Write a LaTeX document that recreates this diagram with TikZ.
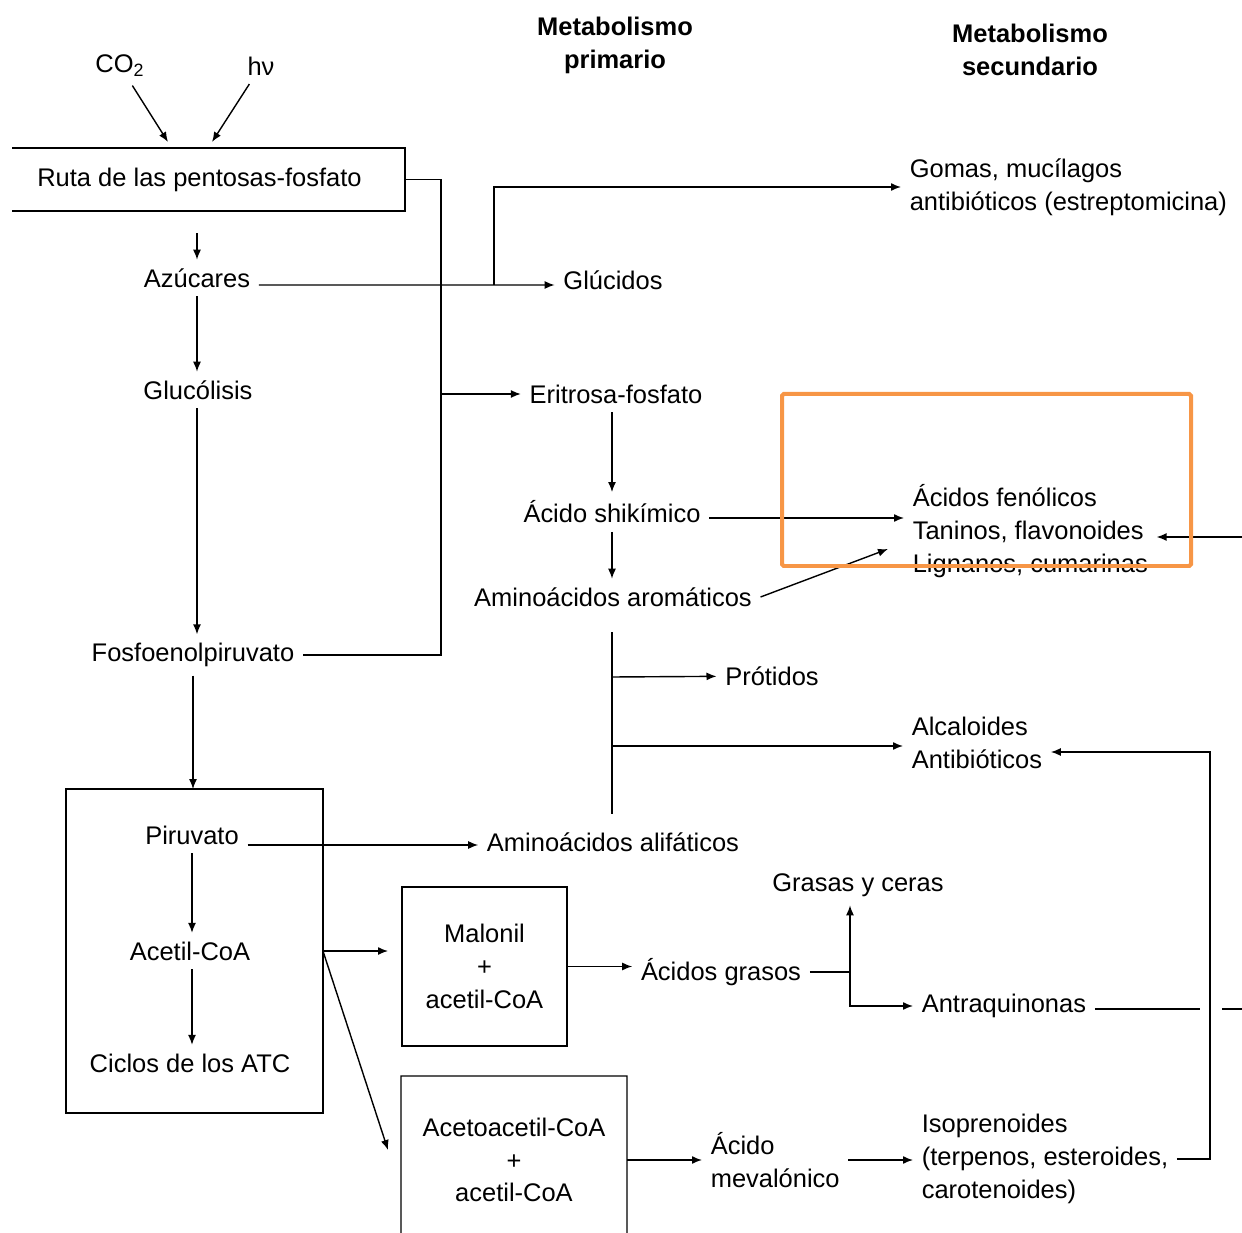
\documentclass[tikz,border=0pt]{standalone}
\usepackage{fontspec}
\setmainfont{Liberation Sans}
\usetikzlibrary{arrows.meta}
\definecolor{naranja}{RGB}{247,150,70}

\begin{document}
\begin{tikzpicture}[x=0.02cm, y=-0.02cm, font=\fontsize{14.5}{18.7}\selectfont, line width=0.8pt]
      % Definición de estilos
      \tikzstyle{texto}=[inner sep=0pt, outer sep=5pt]
      \tikzstyle{bloque}=[texto, anchor=west, align=left]
      \tikzstyle{caja}=[inner sep=0pt, outer sep=0pt, align=center]
      \tikzstyle{flecha}=[-{Latex[length=2mm,width=1.6mm]}]
      \tikzstyle{encabezado}=[font=\fontsize{14.5}{18.7}\selectfont\bfseries, align=center]

      \useasboundingbox (0,0) rectangle (1242,1233);

      % Encabezados
      \node[encabezado] (prim) at (615,45) {Metabolismo\\primario};
      \node[encabezado] (secu) at (1030,50) {Metabolismo\\secundario};

      % Entrada de la fotosíntesis
      \node[texto] (co2) at (120,66) {CO\textsubscript{2}};
      \node[texto] (luz) at (261,66) {hν};
      \coordinate (entco2) at (168,142);
      \coordinate (entluz) at (212,142);
      \node[caja, minimum width=7.86cm, minimum height=1.26cm] (ruta) at (208.5,179.5) {Ruta de las pentosas-fosfato\hspace{0.36cm}};
      \draw (ruta.north west) -- (ruta.north east) -- (ruta.south east) -- (ruta.south west);

      % Columna izquierda
      \node[texto] (azucares) at (197,278) {Azúcares};
      \node[texto] (glucolisis) at (198,390) {Glucólisis};
      \node[texto] (fosfo) at (193,655) {Fosfoenolpiruvato};
      \node[caja, draw, minimum width=5.14cm, minimum height=6.48cm] (cajapir) at (194.5,951) {};
      \node[texto] (piruvato) at (192,835) {Piruvato};
      \node[texto] (acetil) at (190,951) {Acetil-CoA};
      \node[texto] (ciclos) at (190,1063) {Ciclos de los ATC};

      % Cajas de acetil-CoA
      \node[caja, draw, minimum width=3.3cm, minimum height=3.18cm] (malonil) at (484.5,966.5) {Malonil\\+\\acetil-CoA};
      \node[caja, minimum width=4.52cm, minimum height=3.36cm] (aceto) at (514,1160) {Acetoacetil-CoA\\+\\acetil-CoA};
      \draw (401,1233) -- (aceto.north west) -- (aceto.north east) -- (627,1233);

      % Metabolismo primario
      \node[texto] (glucidos) at (613,280) {Glúcidos};
      \node[texto] (eritrosa) at (616,394) {Eritrosa-fosfato};
      \node[texto] (shikimico) at (612,512) {Ácido shikímico};
      \node[texto] (aromaticos) at (613,597) {Aminoácidos aromáticos};
      \node[texto] (protidos) at (772,676) {Prótidos};
      \node[texto] (alifaticos) at (613,842) {Aminoácidos alifáticos};
      \node[texto] (grasos) at (721,972) {Ácidos grasos};
      \node[texto] (grasas) at (858,885) {Grasas y ceras};
      \node[bloque] (meval) at (702,1160) {Ácido\\mevalónico};

      % Metabolismo secundario
      \node[bloque] (gomas) at (901,187) {Gomas, mucílagos\\antibióticos (estreptomicina)};
      \node[bloque] (fenolicos) at (904,531) {Ácidos fenólicos\\Taninos, flavonoides\\Lignanos, cumarinas};
      \node[bloque] (alcaloides) at (903,743) {Alcaloides\\Antibióticos};
      \node[bloque] (antraq) at (913,1006) {Antraquinonas};
      \node[bloque] (iso) at (913,1159) {Isoprenoides\\(terpenos, esteroides,\\carotenoides)};

      % Puntos de unión
      \coordinate (t1) at (441,394);
      \coordinate (b1) at (494,285);
      \coordinate (fen1) at (888,549);
      \coordinate (p1) at (612,677);
      \coordinate (p2) at (612,746);
      \coordinate (ace1) at (388,1150);
      \coordinate (g1) at (850,972);
      \coordinate (s1) at (1200,1009);
      \coordinate (s2) at (1222,1009);
      \coordinate (borde2) at (1242,1009);
      \coordinate (borde1) at (1242,537);
      \coordinate (r1) at (1210,752);

      % Conexiones
      \draw[flecha] (co2) -- (entco2);
      \draw[flecha] (luz) -- (entluz);
      \draw[flecha, shorten <=0.45cm] (ruta.south -| azucares) -- (azucares);
      \draw[flecha] (azucares) -- (azucares |- glucolisis.north);
      \draw[flecha] (glucolisis.south -| azucares) -- (azucares |- fosfo.north);
      \draw[flecha] (fosfo) -- (fosfo |- cajapir.north);
      \draw[flecha] (piruvato) -- (piruvato |- acetil.north);
      \draw[flecha] (acetil.south -| piruvato) -- (piruvato |- ciclos.north);

      \draw (ruta.east) -| (t1) |- (fosfo.east);
      \draw[flecha] (t1) -- (eritrosa);
      \draw[flecha] ([yshift=-0.14cm]azucares.east) -- (b1) -- (b1 -| glucidos.west);
      \draw[flecha] (b1) |- (gomas.west);

      \draw[flecha] (eritrosa.south -| shikimico) -- (shikimico);
      \draw[flecha] (shikimico) -- (shikimico |- aromaticos.north);
      \draw[flecha] ([yshift=-0.12cm]shikimico.east) -- ([yshift=-0.12cm]shikimico.east -| fenolicos.west);
      \draw[flecha] (aromaticos.east) -- (fen1);
      \draw[shorten <=0.34cm, shorten >=0.2cm] (aromaticos.south -| shikimico) -- (shikimico |- alifaticos.north);
      \draw[flecha] (p1) -- (protidos);
      \draw[flecha] (p2) -- (p2 -| alcaloides.west);
      \draw[flecha] ([yshift=-0.2cm]piruvato.east) -- ([yshift=-0.2cm]piruvato.east -| alifaticos.west);

      \draw[flecha, shorten >=0.28cm] (cajapir.east) -- (cajapir.east -| malonil.west);
      \draw[flecha] (cajapir.east) -- (ace1);
      \draw[flecha] (malonil.east) -- (malonil.east -| grasos.west);
      \draw (grasos.east) -- (g1);
      \draw[flecha] (g1) -- (g1 |- grasas.south);
      \draw[flecha] (g1) |- (antraq.west);
      \draw (antraq.east |- s1) -- (s1) (s2) -- (borde2);

      \draw[flecha] (aceto.east) -- (meval.west);
      \draw[flecha] (meval.east) -- (meval.east -| iso.west);
      \draw[flecha] (iso.east) -| (r1) -- (r1 -| alcaloides.east);
      \draw[flecha] (borde1) -- (borde1 -| fenolicos.east);

      % Resaltado
      \draw[naranja, line width=0.08cm, rounded corners=1pt] (782,394) rectangle (1191,566);
    \end{tikzpicture}
\end{document}
